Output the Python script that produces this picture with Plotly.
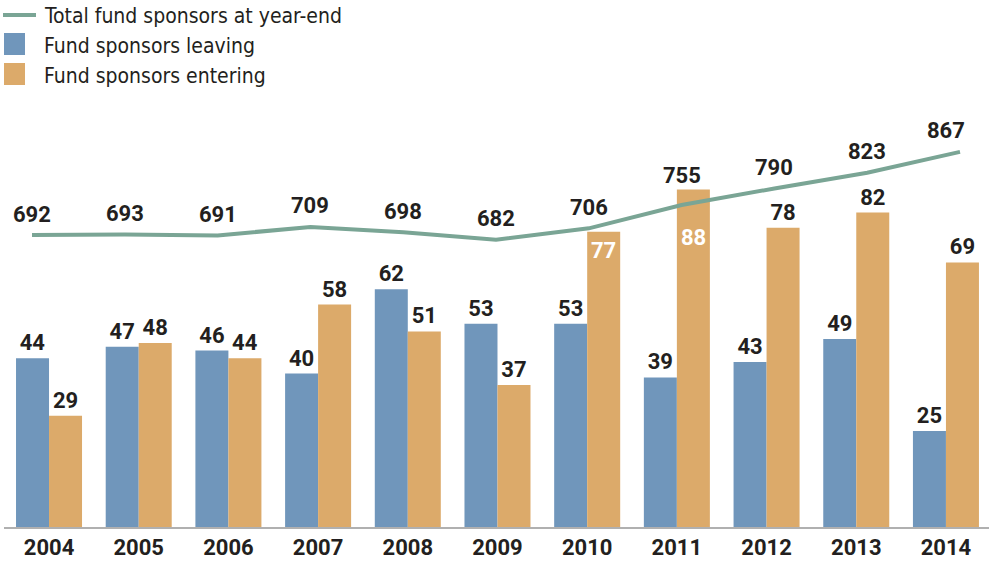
import plotly.graph_objects as go

years = ["2004", "2005", "2006", "2007", "2008", "2009", "2010", "2011", "2012", "2013", "2014"]
leaving = [44, 47, 46, 40, 62, 53, 53, 39, 43, 49, 25]
entering = [29, 48, 44, 58, 51, 37, 77, 88, 78, 82, 69]
total = [692, 693, 691, 709, 698, 682, 706, 755, 790, 823, 867]
legend_labels = ["Total fund sponsors at year-end", "Fund sponsors leaving", "Fund sponsors entering"]

BLUE = "#7096bb"
ORANGE = "#dcaa6a"
GREEN = "#7aa595"
TEXT = "#231f20"
NUMFONT = "Roboto, DejaVu Sans Condensed, sans-serif"
LEGFONT = "DejaVu Sans Condensed, Roboto, sans-serif"
W, H = 989, 566
ML, MR, MT, MB = 4, 0, 100, 39
PW, PH = W - ML - MR, H - MT - MB
BAR_HALF_PX = 16.5

# label placement styles (pixel offsets)
inside_label_shift = {"2010": -19, "2011": -48}
line_label_shift = {7: 30}

def px(x):
    return (x - ML) / PW

def py(y):
    return (H - MB - y) / PH

numfont = dict(family=NUMFONT, size=22, color=TEXT, weight="bold")

fig = go.Figure()

fig.add_trace(go.Bar(
    x=years, y=leaving, name=legend_labels[1], marker=dict(color=BLUE, line=dict(width=0)),
    text=leaving, textposition="outside", cliponaxis=False,
    textfont=numfont, textangle=0,
    showlegend=False,
))

ent_pos = ["none" if y in inside_label_shift else "outside" for y in years]
fig.add_trace(go.Bar(
    x=years, y=entering, name=legend_labels[2], marker=dict(color=ORANGE, line=dict(width=0)),
    text=entering, textposition=ent_pos, cliponaxis=False,
    outsidetextfont=numfont, textfont=numfont,
    textangle=0,
    showlegend=False,
))

fig.add_trace(go.Scatter(
    x=list(range(len(years))), y=total, name=legend_labels[0], mode="lines",
    line=dict(color=GREEN, width=4), xaxis="x2", yaxis="y2", showlegend=False,
))

# inside (white) labels for the tallest entering bars (x as category index)
for i, (yr, v) in enumerate(zip(years, entering)):
    if yr in inside_label_shift:
        fig.add_annotation(
            x=i, y=v, xref="x", yref="y", text=str(v), showarrow=False,
            xshift=BAR_HALF_PX, yshift=inside_label_shift[yr],
            font=dict(family=NUMFONT, size=22, color="white", weight="bold"),
        )

for i, v in enumerate(total):
    fig.add_annotation(
        x=i, y=v, xref="x2", yref="y2", text=str(v), showarrow=False,
        yshift=line_label_shift.get(i, 21), xshift=-14 if i == len(total) - 1 else 0,
        font=numfont,
    )

# custom legend
fig.add_shape(type="line", xref="paper", yref="paper", x0=px(3), x1=px(36), y0=py(15), y1=py(15),
              line=dict(color=GREEN, width=4))
fig.add_shape(type="rect", xref="paper", yref="paper", x0=px(4), x1=px(25), y0=py(33), y1=py(55),
              fillcolor=BLUE, line=dict(width=0))
fig.add_shape(type="rect", xref="paper", yref="paper", x0=px(4), x1=px(25), y0=py(63), y1=py(85),
              fillcolor=ORANGE, line=dict(width=0))
for lab, yc in zip(legend_labels, [16, 46, 76]):
    fig.add_annotation(x=px(42), y=py(yc), xref="paper", yref="paper", text=lab, showarrow=False,
                       xanchor="left", yanchor="middle",
                       font=dict(family=LEGFONT, size=21, color=TEXT))

fig.update_layout(
    width=W, height=H, margin=dict(l=ML, r=MR, t=MT, b=MB),
    paper_bgcolor="white", plot_bgcolor="white",
    barmode="group", bargap=0.264, bargroupgap=0,
    xaxis=dict(type="category", range=[-0.502, 10.48], showgrid=False, zeroline=False,
               showline=True, linecolor="#b0b0b0", linewidth=2, ticks="",
               tickfont=numfont),
    yaxis=dict(range=[0, 111.34], visible=False, showgrid=False, zeroline=False),
    xaxis2=dict(overlaying="x", range=[-0.302, 10.3125], visible=False, showgrid=False, zeroline=False),
    yaxis2=dict(overlaying="y", range=[77.3, 976.2], visible=False, showgrid=False, zeroline=False),
    showlegend=False,
)

fig.write_html("out.html")
